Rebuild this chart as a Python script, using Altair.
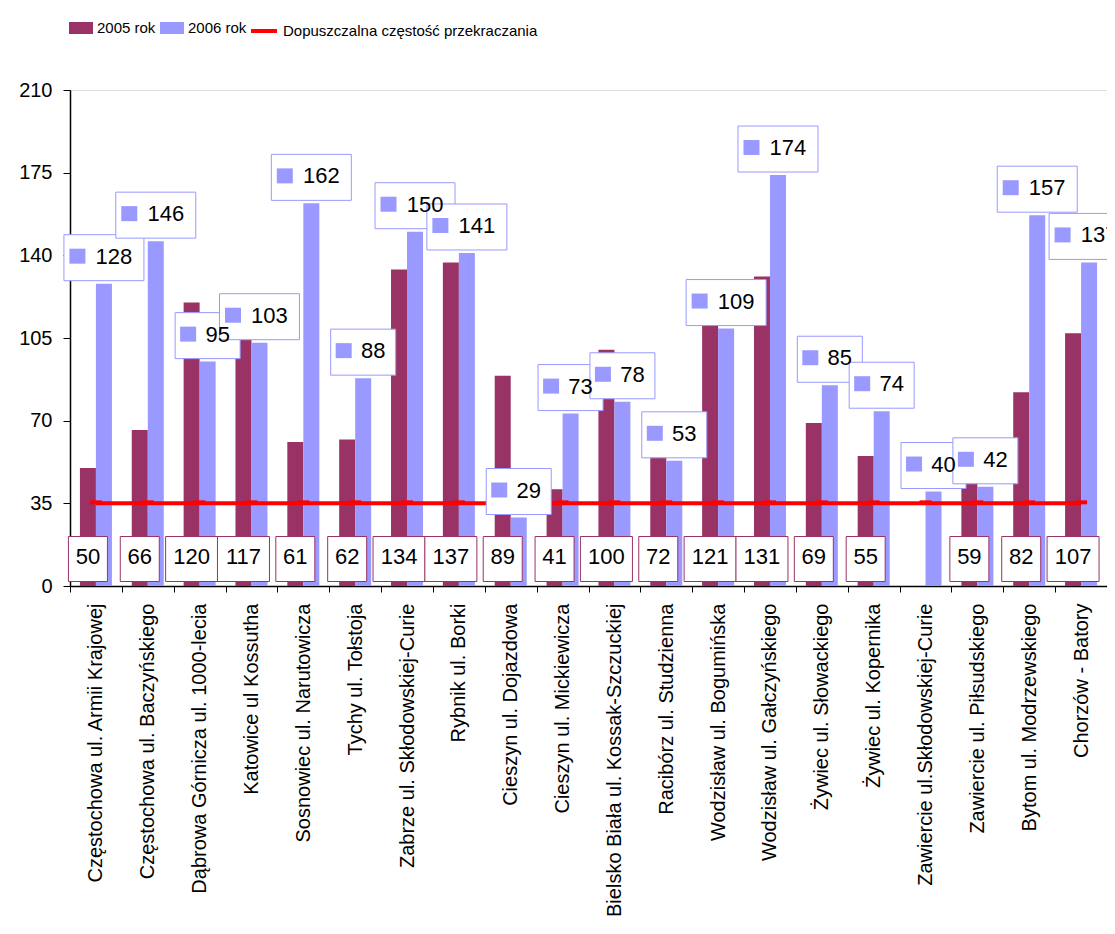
import altair as alt
import pandas as pd

stations = [
    "Częstochowa ul. Armii Krajowej",
    "Częstochowa ul. Baczyńskiego",
    "Dąbrowa Górnicza ul. 1000-lecia",
    "Katowice ul Kossutha",
    "Sosnowiec ul. Narutowicza",
    "Tychy ul. Tołstoja",
    "Zabrze ul. Skłodowskiej-Curie",
    "Rybnik ul. Borki",
    "Cieszyn ul. Dojazdowa",
    "Cieszyn ul. Mickiewicza",
    "Bielsko Biała ul. Kossak-Szczuckiej",
    "Racibórz ul. Studzienna",
    "Wodzisław ul. Bogumińska",
    "Wodzisław ul. Gałczyńskiego",
    "Żywiec ul. Słowackiego",
    "Żywiec ul. Kopernika",
    "Zawiercie ul.Skłodowskiej-Curie",
    "Zawiercie ul. Piłsudskiego",
    "Bytom ul. Modrzewskiego",
    "Chorzów - Batory",
]
v2005 = [50, 66, 120, 117, 61, 62, 134, 137, 89, 41, 100, 72, 121, 131, 69, 55, None, 59, 82, 107]
v2006 = [128, 146, 95, 103, 162, 88, 150, 141, 29, 73, 78, 53, 109, 174, 85, 74, 40, 42, 157, 137]
series_names = ["2005 rok", "2006 rok"]
limit_name = "Dopuszczalna częstość przekraczania"
LIMIT = 35
y_ticks = [0, 35, 70, 105, 140, 175, 210]

C05 = "#993366"
C06 = "#9999FF"
RED = "#FF0000"
FONT = "Liberation Sans"
LFS = 15

rows = []
for s, a, b in zip(stations, v2005, v2006):
    if a is not None:
        rows.append({"station": s, "series": series_names[0], "value": a, "digits": str(len(str(a)))})
    rows.append({"station": s, "series": series_names[1], "value": b, "digits": str(len(str(b)))})
df = pd.DataFrame(rows)
lim = pd.DataFrame({"station": stations, "limit": [LIMIT] * len(stations), "name": [limit_name] * len(stations)})

x = alt.X("station:N", sort=stations,
          scale=alt.Scale(paddingInner=0, paddingOuter=0),
          axis=alt.Axis(title=None, labelAngle=270, labelAlign="right", labelBaseline="middle",
                        labelFontSize=20, labelFont=FONT, labelColor="black", labelPadding=11,
                        labelLimit=400, tickSize=6, tickBand="extent", tickColor="black",
                        domainColor="black", domainWidth=1.5))
xo = alt.XOffset("series:N", scale=alt.Scale(domain=series_names, paddingOuter=0.62, paddingInner=0))
yscale = alt.Scale(domain=[0, 210], nice=False)
y = alt.Y("value:Q", scale=yscale,
          axis=alt.Axis(title=None, values=y_ticks, grid=False, labelFontSize=20, labelFont=FONT,
                        labelColor="black", labelPadding=11, tickSize=7, tickColor="black",
                        domainColor="black", domainWidth=1.5))

base = alt.Chart(df)

bars = base.mark_bar().encode(
    x=x, xOffset=xo, y=y,
    color=alt.Color("series:N",
                    scale=alt.Scale(domain=series_names, range=[C05, C06]),
                    legend=alt.Legend(orient="none", legendX=-1, legendY=-74, direction="horizontal",
                                      title=None, symbolType="M-1,-0.5H1V0.5H-1Z", symbolSize=576,
                                      symbolStrokeWidth=0, labelFontSize=LFS, labelFont=FONT,
                                      labelColor="black", labelOffset=4, columnPadding=4,
                                      labelLimit=300)),
)

line = alt.Chart(lim).mark_line(strokeWidth=4).encode(
    x=alt.X("station:N", sort=stations),
    y=alt.Y("limit:Q", scale=yscale),
    stroke=alt.Stroke("name:N", scale=alt.Scale(domain=[limit_name], range=[RED]),
                      legend=alt.Legend(orient="none", legendX=179, legendY=-74, title=None,
                                        symbolType="stroke", symbolSize=676, symbolStrokeWidth=4,
                                        labelFontSize=LFS, labelFont=FONT, labelColor="black",
                                        labelOffset=4, labelLimit=400)),
)
line_marks = alt.Chart(lim).mark_point(shape="M-6,-3H6V1H-6Z", size=4, filled=True, color=RED, opacity=1).encode(
    x=alt.X("station:N", sort=stations),
    y=alt.Y("limit:Q", scale=yscale),
)

d05 = base.transform_filter(alt.datum.series == series_names[0])
d06 = base.transform_filter(alt.datum.series == series_names[1])

box05 = d05.mark_point(size=4, fill="white", stroke=C05, strokeWidth=1, opacity=1, fillOpacity=1).encode(
    x=x, xOffset=xo, y=alt.value(469),
    shape=alt.Shape("digits:N", scale=alt.Scale(domain=["2", "3"],
                    range=["M-19.5,-22.5H19.5V22.5H-19.5Z", "M-26,-22.5H26V22.5H-26Z"]), legend=None),
)
txt05 = d05.mark_text(fontSize=22, font=FONT, color="black", baseline="middle", align="center").encode(
    x=x, xOffset=xo, y=alt.value(467), text="value:Q",
)

box06 = d06.mark_point(size=4, fill="white", stroke=C06, strokeWidth=1, opacity=1, fillOpacity=1).encode(
    x=x, xOffset=xo, y=y,
    shape=alt.Shape("digits:N", scale=alt.Scale(domain=["2", "3"],
                    range=["M-32.5,-49H32.5V-3H-32.5Z", "M-40,-49H40V-3H-40Z"]), legend=None),
)
sq06 = d06.mark_point(size=4, filled=True, fill=C06, opacity=1, fillOpacity=1).encode(
    x=x, xOffset=xo, y=y,
    shape=alt.Shape("digits:N", scale=alt.Scale(domain=["2", "3"],
                    range=["M-27.5,-35H-11.5V-20H-27.5Z", "M-34.5,-35H-18.5V-20H-34.5Z"]), legend=None),
)
txt06 = d06.mark_text(fontSize=22, font=FONT, color="black", baseline="middle", align="center",
                      dx=10, dy=-27).encode(
    x=x, xOffset=xo, y=y, text="value:Q",
)

chart = alt.layer(bars, line, line_marks, box05, txt05, box06, sq06, txt06).resolve_scale(
    shape="independent"
).properties(
    width=1037, height=496,
    autosize=alt.AutoSizeParams(type="none"),
    padding={"left": 62, "top": 82, "right": 0, "bottom": 340},
).configure_view(stroke="#808080", strokeWidth=1).configure(background="white")

chart.save("out.html", embed_options={"renderer": "svg", "actions": False})
